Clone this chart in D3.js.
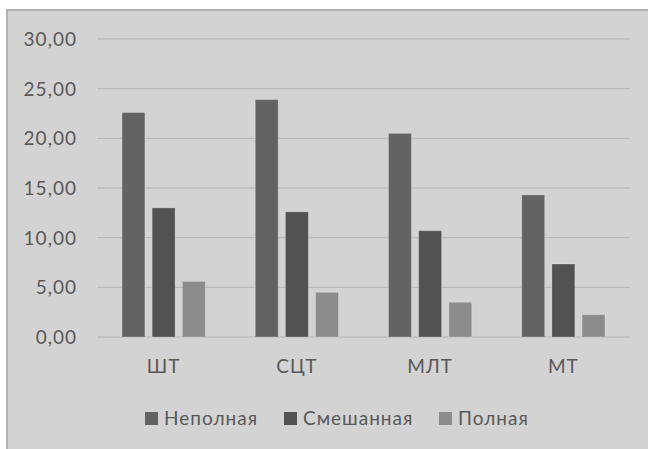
<!DOCTYPE html>
<html lang="ru">
<head>
    <meta charset="UTF-8">
    <title>Неполная / Смешанная / Полная</title>
    <script src="https://cdn.jsdelivr.net/npm/d3@7"></script>
    <style>
        body {
            margin: 0;
            padding: 0;
            background: #ffffff;
            font-family: Lato, "Open Sans", sans-serif;
        }
        svg text {
            letter-spacing: 1px;
        }
    </style>
</head>
<body>
    <div id="chart"></div>

    <script>
        // categories and series
        const categories = ["ШТ", "СЦТ", "МЛТ", "МТ"];
        const seriesNames = ["Неполная", "Смешанная", "Полная"];
        const nepolnaya = [22.6, 23.9, 20.5, 14.3];
        const smeshannaya = [13.0, 12.6, 10.7, 7.35];
        const polnaya = [5.6, 4.5, 3.5, 2.25];
        const yTicks = [0, 5, 10, 15, 20, 25, 30];

        const colors = ["#636363", "#525252", "#8c8c8c"];
        const allSeries = [nepolnaya, smeshannaya, polnaya];

        const width = 648, height = 449;
        const margin = { left: 97, right: 18, top: 39, bottom: 112 };

        const svg = d3.select("#chart").append("svg")
            .attr("width", width)
            .attr("height", height);

        // chart area box
        svg.append("rect")
            .attr("x", 7).attr("y", 10)
            .attr("width", width + 10).attr("height", height + 10)
            .attr("fill", "#d3d3d3")
            .attr("stroke", "#b2b2b2")
            .attr("stroke-width", 2);

        const x0 = d3.scaleBand()
            .domain(categories)
            .range([margin.left, width - margin.right])
            .paddingInner(0.375)
            .paddingOuter(0.1875);

        const x1 = d3.scaleBand()
            .domain(seriesNames)
            .range([0, x0.bandwidth()])
            .paddingInner(0.24);

        const y = d3.scaleLinear()
            .domain([0, 30])
            .range([height - margin.bottom, margin.top]);

        // gridlines
        svg.append("g")
            .selectAll("line")
            .data(yTicks)
            .join("line")
            .attr("x1", margin.left)
            .attr("x2", width - margin.right)
            .attr("y1", d => y(d))
            .attr("y2", d => y(d))
            .attr("stroke", "#bcbcbc")
            .attr("stroke-width", 1.3);

        // y tick labels
        svg.append("g")
            .selectAll("text")
            .data(yTicks)
            .join("text")
            .attr("x", 77)
            .attr("y", d => y(d))
            .attr("dy", "0.36em")
            .attr("text-anchor", "end")
            .attr("font-size", 19)
            .attr("fill", "#595959")
            .text(d => d.toFixed(2).replace(".", ","));

        // bars
        const groups = svg.append("g")
            .selectAll("g")
            .data(categories)
            .join("g")
            .attr("transform", d => `translate(${x0(d)},0)`);

        groups.selectAll("rect")
            .data((c, i) => seriesNames.map((s, j) => ({ s, j, v: allSeries[j][i] })))
            .join("rect")
            .attr("x", d => x1(d.s))
            .attr("y", d => y(d.v))
            .attr("width", x1.bandwidth())
            .attr("height", d => y(0) - y(d.v))
            .attr("fill", d => colors[d.j])
            .attr("stroke", "#ffffff")
            .attr("stroke-opacity", 0.25)
            .attr("stroke-width", 1);

        // category labels
        svg.append("g")
            .selectAll("text")
            .data(categories)
            .join("text")
            .attr("x", d => x0(d) + x0.bandwidth() / 2)
            .attr("y", 373)
            .attr("text-anchor", "middle")
            .attr("font-size", 19)
            .attr("fill", "#595959")
            .text(d => d);

        // legend
        const legendX = [145, 284, 439];
        const legend = svg.append("g")
            .selectAll("g")
            .data(seriesNames)
            .join("g")
            .attr("transform", (d, i) => `translate(${legendX[i]},412)`);

        legend.append("rect")
            .attr("width", 13).attr("height", 13)
            .attr("fill", (d, i) => colors[i]);

        legend.append("text")
            .attr("x", 19)
            .attr("y", 13)
            .attr("font-size", 19)
            .attr("fill", "#595959")
            .text(d => d);
    </script>
</body>
</html>
